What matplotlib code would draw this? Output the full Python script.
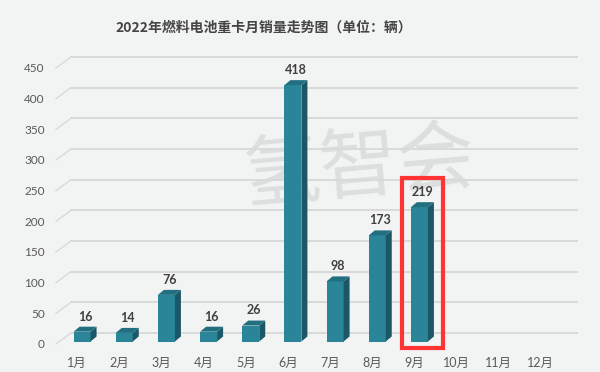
import matplotlib
matplotlib.use('Agg')
import matplotlib.pyplot as plt
from matplotlib.patches import Polygon, Rectangle
import numpy as np

plt.rcParams['font.family'] = ['Lato', 'Noto Sans CJK SC', 'DejaVu Sans']

# ---- data ----
months = ['1月', '2月', '3月', '4月', '5月', '6月', '7月', '8月', '9月', '10月', '11月', '12月']
sales = [16, 14, 76, 16, 26, 418, 98, 173, 219]
y_ticks = [0, 50, 100, 150, 200, 250, 300, 350, 400, 450]
title = '2022年燃料电池重卡月销量走势图（单位：辆）'
highlight_idx = 8

# ---- geometry (pixels) ----
W, H = 600, 372
fig = plt.figure(figsize=(6, 3.72), dpi=100)
bg = '#f2f3f3'
fig.patch.set_facecolor(bg)
ax = fig.add_axes([56 / W, (H - 344) / H, 506 / W, 276 / H])
ax.set_facecolor('none')
ax.set_xlim(-0.5, 11.5)
ax.set_ylim(0, 450)
for s in ax.spines.values():
    s.set_visible(False)

pxx = 506 / 12.0      # px per x unit
pxy = 276 / 450.0     # px per y unit
DX, DY = 15 / pxx, 11 / pxy        # back-wall depth
OX, OY = 5 / pxx, 2.5 / pxy        # bar plane offset
bdx, bdy = 6 / pxx, 5 / pxy        # bar depth
BW = 17 / pxx

grid_c = '#d9d9d9'
for v in y_ticks:
    ax.plot([-0.5, -0.5 + DX], [v, v + DY], color=grid_c, lw=1.0, clip_on=False, zorder=1)
    ax.plot([-0.5 + DX, 11.5 + DX], [v + DY, v + DY], color=grid_c, lw=1.4, clip_on=False, zorder=1)

front_c, side_c, top_c = '#2b8599', '#1b5767', '#236f82'
x = np.arange(len(sales))
ax.bar(x + OX, sales, width=BW, bottom=OY, color=front_c, zorder=3, linewidth=0)
for xi, v in zip(x, sales):
    xl = xi + OX - BW / 2
    xr = xi + OX + BW / 2
    side = Polygon([(xr, OY), (xr + bdx, OY + bdy), (xr + bdx, OY + v + bdy), (xr, OY + v)],
                   closed=True, facecolor=side_c, edgecolor='none', zorder=3, clip_on=False)
    top = Polygon([(xl, OY + v), (xl + bdx, OY + v + bdy), (xr + bdx, OY + v + bdy), (xr, OY + v)],
                  closed=True, facecolor=top_c, edgecolor='none', zorder=3, clip_on=False)
    ax.add_patch(side)
    ax.add_patch(top)
    ax.annotate(str(v), (xi + OX + bdx / 2, OY + v + bdy), xytext=(0, 3), textcoords='offset points',
                ha='center', va='bottom', fontsize=9, fontweight='bold', color='#404040',
                annotation_clip=False, zorder=5)

# highlight rectangle around September
rx0 = highlight_idx + OX - BW / 2 - 9 / pxx
rect = Rectangle((rx0, -4 / pxy), 41 / pxx, 170 / pxy, fill=False, edgecolor='#ff3535',
                 linewidth=3, zorder=6, clip_on=False)
ax.add_patch(rect)

ax.set_xticks(range(len(months)))
ax.set_xticklabels(months)
ax.set_yticks(y_ticks)
ax.tick_params(axis='both', length=0, colors='#595959', labelsize=8.5)
ax.tick_params(axis='x', pad=9, labelsize=9)
ax.tick_params(axis='y', pad=8)

fig.text(264 / W, 1 - 28 / H, title, ha='center', va='center', fontsize=10,
         fontweight='bold', color='#454545',
         family=['Noto Sans CJK SC', 'DejaVu Sans'])

fig.text(359 / W, 1 - 170 / H, '氢智会', ha='center', va='center', fontsize=56,
         color='#dddede', rotation=5, family=['Noto Sans CJK SC'], zorder=-1,
         fontweight='light')

fig.savefig('out.png', dpi=100, facecolor=bg)
